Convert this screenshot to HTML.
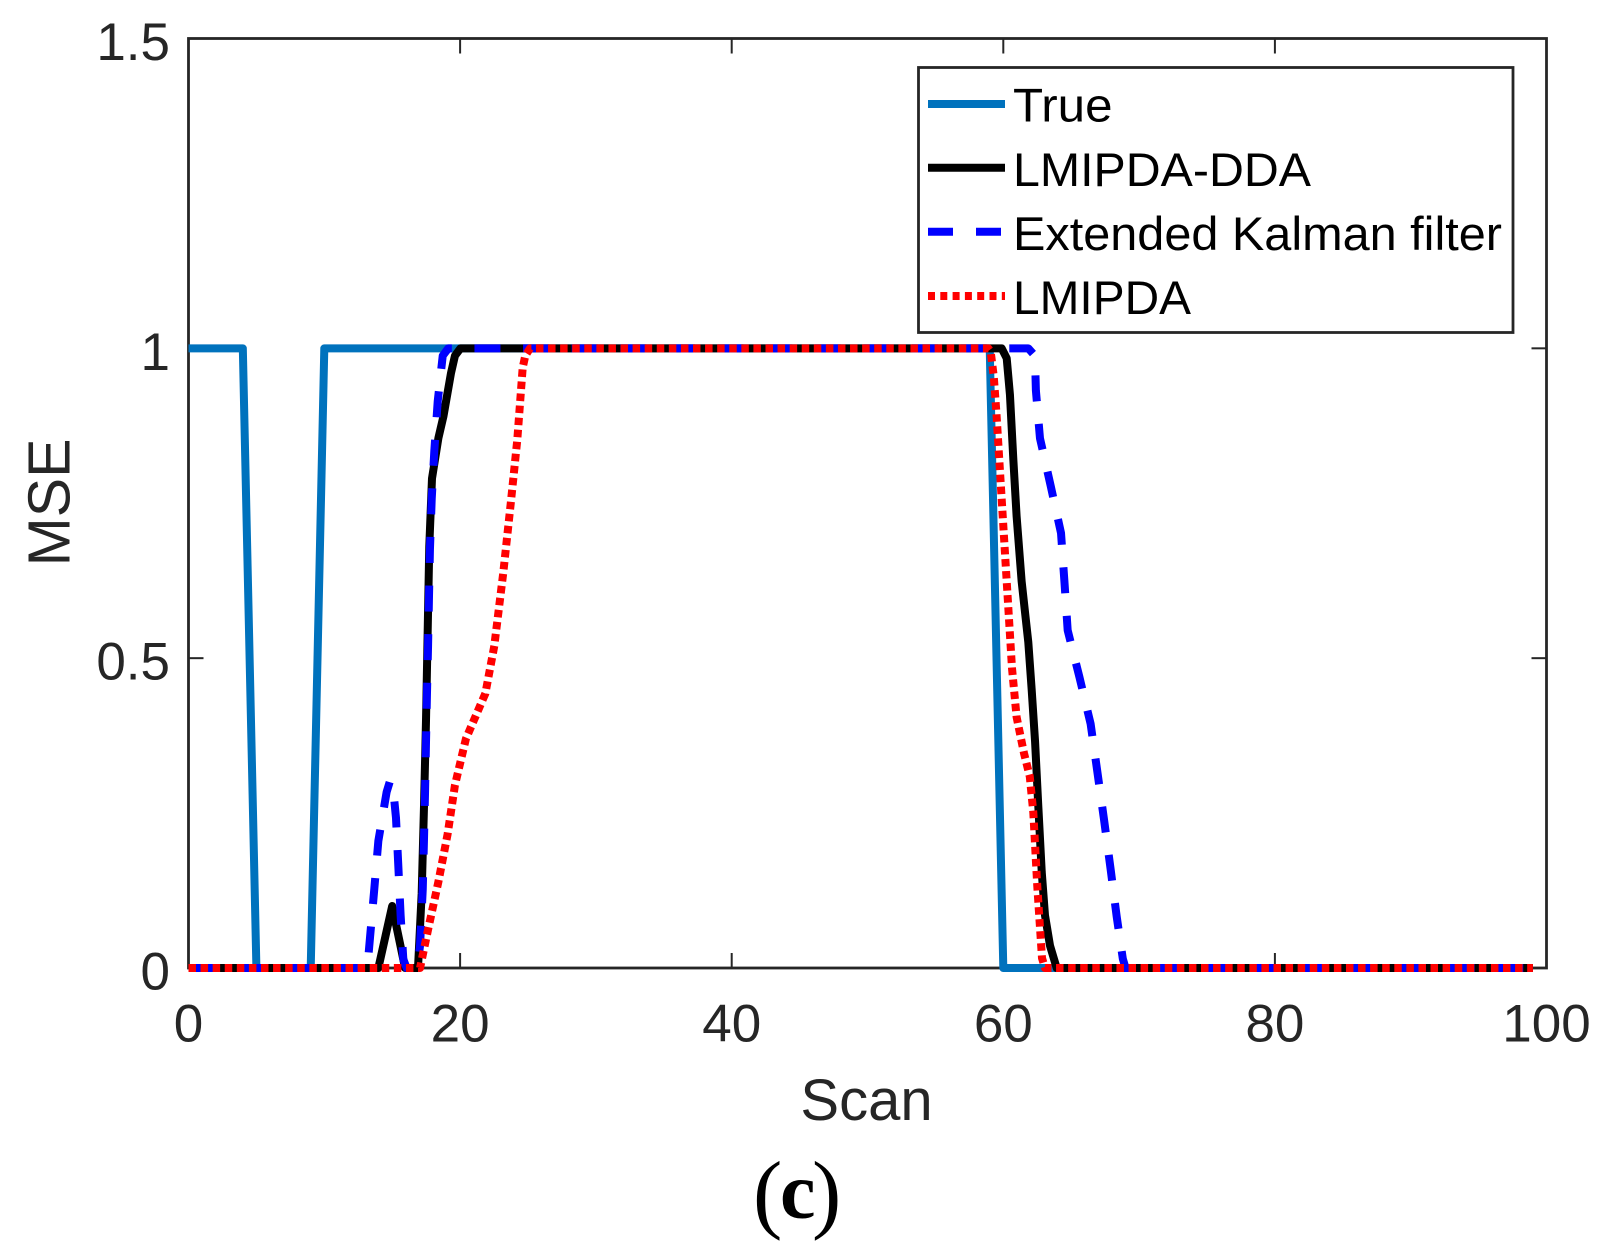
<!DOCTYPE html>
<html lang="en">
<head>
<meta charset="utf-8">
<title>MSE vs Scan</title>
<style>
html,body{margin:0;padding:0;background:#fff;}
svg{display:block;}
text{font-family:"Liberation Sans",Arial,sans-serif;fill:#262626;}
</style>
</head>
<body>
<svg id="chart" xmlns="http://www.w3.org/2000/svg" width="1612" height="1253" viewBox="0 0 1612 1253">
  <rect x="0" y="0" width="1612" height="1253" fill="#fff"/>
  <g id="ticks"></g>
  <g id="series"></g>
  <rect x="188.5" y="38.5" width="1358" height="929.5" fill="none" stroke="#262626" stroke-width="2.8"/>
  <g id="series-top"></g>
  <g id="tick-labels"></g>
  <text x="866.5" y="1120" font-size="58" text-anchor="middle">Scan</text>
  <text transform="translate(69.5 502.5) rotate(-90)" font-size="59" text-anchor="middle">MSE</text>
  <g>
    <text x="753" y="1222" font-size="88" style="font-family:'Liberation Serif',serif;fill:#000">(</text>
    <text x="780" y="1218" font-size="80" font-weight="bold" style="font-family:'Liberation Serif',serif;fill:#000">c</text>
    <text x="812" y="1222" font-size="88" style="font-family:'Liberation Serif',serif;fill:#000">)</text>
  </g>
  <g>
    <rect x="918.5" y="67.5" width="594.5" height="265" fill="#fff" stroke="#262626" stroke-width="2.8"/>
    <line x1="928" y1="104" x2="1005" y2="104" stroke="#0072BD" stroke-width="8"/>
    <text x="1013" y="121.5" font-size="47.5" textLength="99.5" lengthAdjust="spacingAndGlyphs" style="fill:#000">True</text>
    <line x1="928" y1="167.7" x2="1005" y2="167.7" stroke="#000" stroke-width="8"/>
    <text x="1013" y="186" font-size="47.5" textLength="298" lengthAdjust="spacingAndGlyphs" style="fill:#000">LMIPDA-DDA</text>
    <line x1="928" y1="231.7" x2="1005" y2="231.7" stroke="#0000FF" stroke-width="8" stroke-dasharray="25 23"/>
    <text x="1013" y="250" font-size="47.5" textLength="489" lengthAdjust="spacingAndGlyphs" style="fill:#000">Extended Kalman filter</text>
    <line x1="928" y1="296" x2="1005" y2="296" stroke="#FF0000" stroke-width="8" stroke-dasharray="7 5.3"/>
    <text x="1013" y="314" font-size="47.5" textLength="178" lengthAdjust="spacingAndGlyphs" style="fill:#000">LMIPDA</text>
  </g>
</svg>
<script>
const xTicks = [0, 20, 40, 60, 80, 100];
const xTickLabels = ["0", "20", "40", "60", "80", "100"];
const yTicks = [0, 0.5, 1, 1.5];
const yTickLabels = ["0", "0.5", "1", "1.5"];

const trueScan = [0, 4, 5, 9, 10, 59, 60, 99];
const trueMse = [1, 1, 0, 0, 1, 1, 0, 0];

const ddaScan = [0, 13.98, 15, 15.95, 16.9, 17.17, 17.34, 17.49, 17.61, 17.73, 17.93, 18.4, 18.77, 19.33, 19.62, 20.03, 59.88, 60.25, 60.49, 60.74, 60.98, 61.35, 61.84, 62.09, 62.34, 62.58, 62.83, 63.07, 63.44, 63.93, 99];
const ddaMse = [0, 0, 0.1, 0, 0, 0.12, 0.26, 0.4, 0.54, 0.68, 0.79, 0.855, 0.89, 0.96, 0.988, 1, 1, 0.984, 0.925, 0.82, 0.729, 0.624, 0.526, 0.449, 0.365, 0.26, 0.155, 0.085, 0.036, 0, 0];

const ekfScan = [0, 13.17, 13.37, 13.68, 13.98, 14.59, 14.84, 15.08, 15.28, 15.45, 15.62, 15.82, 16.06, 16.85, 17.05, 17.25, 17.34, 17.42, 17.49, 17.56, 17.64, 17.71, 17.78, 17.91, 18.1, 18.35, 18.72, 19.13, 61.84, 62.33, 62.4, 62.7, 63.49, 64.25, 64.5, 64.74, 65.6, 66.43, 66.93, 67.42, 67.9, 68.35, 68.8, 69, 99];
const ekfMse = [0, 0, 0.05, 0.127, 0.205, 0.284, 0.302, 0.287, 0.242, 0.165, 0.085, 0.014, 0, 0, 0.036, 0.127, 0.207, 0.285, 0.365, 0.442, 0.519, 0.6, 0.676, 0.757, 0.834, 0.914, 0.988, 1, 1, 0.988, 0.932, 0.855, 0.778, 0.702, 0.624, 0.545, 0.47, 0.394, 0.316, 0.239, 0.16, 0.083, 0.015, 0, 0];

const lmipdaScan = [0, 17.05, 17.66, 18.4, 19.08, 19.62, 20.43, 21.86, 22.52, 23.18, 23.75, 24.21, 24.61, 24.8, 25.15, 58.9, 59.07, 59.3, 59.49, 60.1, 60.64, 60.98, 61.52, 61.95, 62.21, 62.5, 62.85, 63.07, 99];
const lmipdaMse = [0, 0, 0.064, 0.139, 0.216, 0.295, 0.37, 0.443, 0.52, 0.638, 0.754, 0.852, 0.969, 0.988, 1, 1, 0.995, 0.954, 0.897, 0.678, 0.484, 0.405, 0.347, 0.309, 0.251, 0.133, 0.016, 0, 0];

const SVGNS = 'http://www.w3.org/2000/svg';
const plotLeft = 188.5, plotRight = 1546.5, plotTop = 38.5, plotBottom = 968;
function xScale(v) { return plotLeft + (v / 100) * (plotRight - plotLeft); }
function yScale(v) { return plotBottom - (v / 1.5) * (plotBottom - plotTop); }

function linePath(xs, ys) {
  return xs.map(function (x, i) {
    return (i ? 'L' : 'M') + xScale(x).toFixed(2) + ' ' + yScale(ys[i]).toFixed(2);
  }).join(' ');
}

function addPath(parent, xs, ys, color, width, dash, offset) {
  const p = document.createElementNS(SVGNS, 'path');
  p.setAttribute('d', linePath(xs, ys));
  p.setAttribute('fill', 'none');
  p.setAttribute('stroke', color);
  p.setAttribute('stroke-width', width);
  p.setAttribute('stroke-linejoin', 'round');
  if (dash) p.setAttribute('stroke-dasharray', dash);
  if (offset) p.setAttribute('stroke-dashoffset', offset);
  parent.appendChild(p);
  return p;
}

const seriesGroup = document.getElementById('series-top');
const trueLine = addPath(seriesGroup, trueScan, trueMse, '#0072BD', 8);


const ddaLine = addPath(seriesGroup, ddaScan, ddaMse, '#000000', 8);


const ekfLine = addPath(seriesGroup, ekfScan, ekfMse, '#0000FF', 8, '26 22.62', 0);


const lmipdaLine = addPath(seriesGroup, lmipdaScan, lmipdaMse, '#FF0000', 8, '7.5 4.58', 0);



const tickGroup = document.getElementById('ticks');
const labelGroup = document.getElementById('tick-labels');
const tickLen = 15;

function addTick(x1, y1, x2, y2) {
  const t = document.createElementNS(SVGNS, 'line');
  t.setAttribute('x1', x1);
  t.setAttribute('y1', y1);
  t.setAttribute('x2', x2);
  t.setAttribute('y2', y2);
  t.setAttribute('stroke', '#262626');
  t.setAttribute('stroke-width', '2');
  
  
  tickGroup.appendChild(t);
}

function addLabel(x, y, anchor, str) {
  const t = document.createElementNS(SVGNS, 'text');
  t.setAttribute('x', x);
  t.setAttribute('y', y);
  t.setAttribute('font-size', '53');
  t.setAttribute('text-anchor', anchor);
  t.textContent = str;
  
  
  labelGroup.appendChild(t);
}

xTicks.forEach(function (v, i) {
  const x = xScale(v);
  addTick(x, plotBottom, x, plotBottom - tickLen);
  addTick(x, plotTop, x, plotTop + tickLen);
  addLabel(x, 1041.5, 'middle', xTickLabels[i]);
});
yTicks.forEach(function (v, i) {
  const y = yScale(v);
  addTick(plotLeft, y, plotLeft + tickLen, y);
  addTick(plotRight, y, plotRight - tickLen, y);
  addLabel(170, y + 21.5, 'end', yTickLabels[i]);
});
</script>
</body>
</html>
